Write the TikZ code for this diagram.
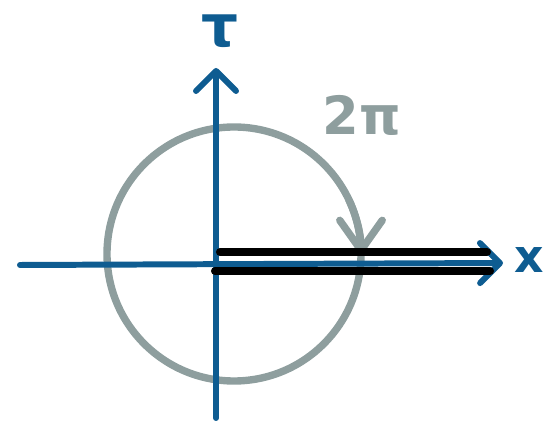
\documentclass[tikz,border=0pt]{standalone}
\usepackage{fontspec}
\setmainfont{DejaVu Sans}
\usepackage{xcolor}
\usetikzlibrary{arrows.meta, positioning}
\definecolor{azul}{HTML}{0E5C91}
\definecolor{gris}{HTML}{8E9E9E}
\tikzset{
  eje/.style={line width=3.4pt, azul, line cap=round,
              -{Straight Barb[length=4mm, width=8mm, round]}},
  circulo/.style={line width=4.2pt, gris},
  vuelta/.style={line width=4.2pt, gris, line cap=round,
              -{Straight Barb[length=6mm, width=8.5mm, round]}},
  borde/.style={line width=4.6pt, black, line cap=round},
  etiq/.style={inner sep=0pt, anchor=base},
}

\begin{document}
\begin{tikzpicture}[x=0.02cm, y=0.02cm]
  \useasboundingbox (0,0) rectangle (550,425);
  % ejes y circulo
  \coordinate (c) at (234,171);
  \coordinate (izq) at (20,160);
  \coordinate (der) at (503,162);
  \coordinate (abajo) at (216,7);
  \coordinate (arriba) at (216,357);
  \draw[circulo] (c) circle[radius=127];
  \draw[vuelta] ([shift={(25:127)}]c) arc[start angle=25, end angle=0, radius=127];
  \draw[eje] (izq) -- (der);
  \draw[eje] (abajo) -- (arriba);
  % los dos bordes del corte
  \coordinate (a1) at (220,173);
  \coordinate (a2) at (487,173);
  \coordinate (b1) at (215,154);
  \coordinate (b2) at (490,154);
  \draw[borde] (a1) -- (a2);
  \draw[borde] (b1) -- (b2);
  \node[etiq, text=azul, font=\fontsize{33}{36}\selectfont\bfseries] (tau) at (220,378) {τ};
  \node[etiq, text=gris, font=\fontsize{30}{34}\selectfont\bfseries] (dospi) at (362,290) {2π};
  \node[etiq, text=azul, font=\fontsize{26}{30}\selectfont\bfseries] (x) at (529,152) {x};
\end{tikzpicture}
\end{document}
